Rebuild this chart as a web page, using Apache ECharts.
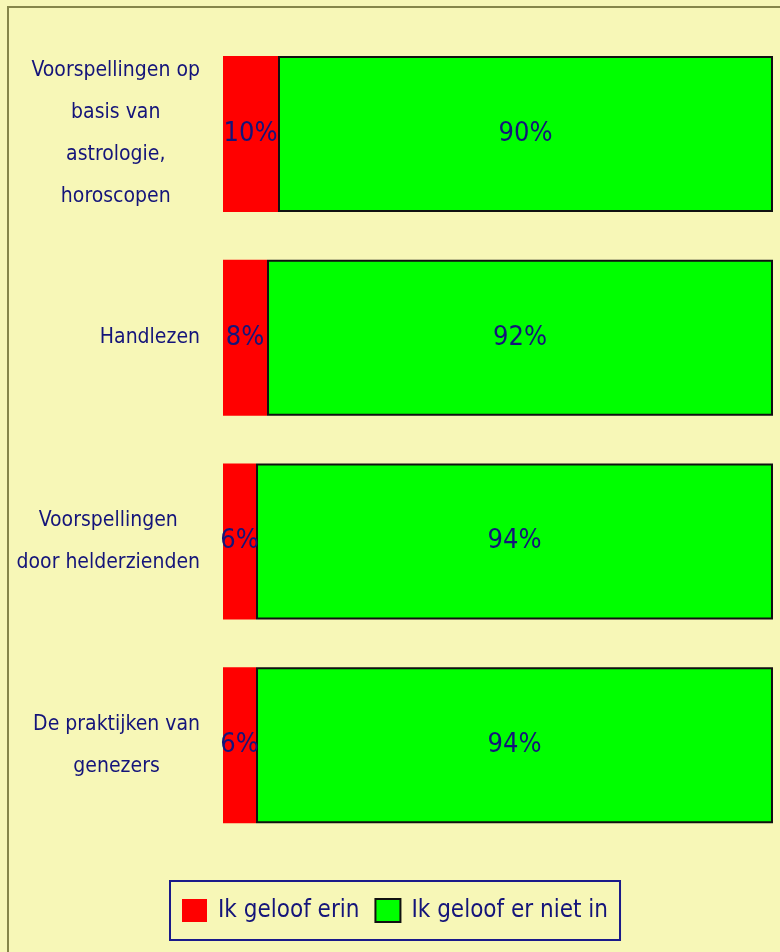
<!DOCTYPE html>
<html>
<head>
<meta charset="utf-8">
<script src="https://cdn.jsdelivr.net/npm/echarts@6/dist/echarts.min.js"></script>
<style>
  html, body { margin: 0; padding: 0; background: #F7F7B7; }
  #chart { width: 780px; height: 952px; }
</style>
</head>
<body>
<div id="chart"></div>
<script>
// categorieen en waarden
var categories = [
  'Voorspellingen op\nbasis van\nastrologie,\nhoroscopen',
  'Handlezen',
  'Voorspellingen\ndoor helderzienden',
  'De praktijken van\ngenezers'
];
var geloofErin = [10, 8, 6, 6];
var geloofNiet = [90, 92, 94, 94];
var seriesNames = ['Ik geloof erin', 'Ik geloof er niet in'];

const NAVY = '#14147A';
const FONT = '"DejaVu Sans Condensed", sans-serif';

var chart = echarts.init(document.getElementById('chart'));

var labelStyle = {
  show: true,
  position: 'inside',
  color: NAVY,
  fontFamily: FONT,
  fontSize: 27,
  formatter: '{c}%'
};

var option = {
  backgroundColor: '#F7F7B7',
  animation: false,
  graphic: [{
    type: 'rect',
    shape: { x: 8, y: 7, width: 800, height: 980 },
    style: { fill: 'none', stroke: '#86864A', lineWidth: 2 },
    silent: true
  }],
  grid: { left: 223, right: 7, top: 32, bottom: 105, outerBoundsMode: 'none', containLabel: false },
  xAxis: {
    type: 'value',
    min: 0,
    max: 100,
    show: false
  },
  yAxis: {
    type: 'category',
    inverse: true,
    data: categories,
    axisLine: { show: false },
    axisTick: { show: false },
    axisLabel: {
      margin: 23,
      align: 'right',
      formatter: function (value) {
        return value.split('\n').map(function (s) { return '{c|' + s + '}'; }).join('\n');
      },
      rich: {
        c: {
          align: 'center',
          color: NAVY,
          fontFamily: FONT,
          fontSize: 21,
          lineHeight: 42
        }
      }
    }
  },
  legend: {
    left: 170,
    top: 881,
    data: seriesNames,
    icon: 'rect',
    itemWidth: 25,
    itemHeight: 23,
    itemGap: 15,
    padding: [17, 12, 17, 12],
    borderColor: '#1A1A8A',
    borderWidth: 2,
    textStyle: { color: NAVY, fontFamily: FONT, fontSize: 24, padding: [0, 0, 0, 6] }
  },
  series: [{
    name: seriesNames[0],
    type: 'bar',
    stack: 'tot',
    barWidth: 156,
    data: geloofErin,
    itemStyle: { color: '#FF0000' },
    label: labelStyle
  }, {
    name: seriesNames[1],
    type: 'bar',
    stack: 'tot',
    barWidth: 156,
    data: geloofNiet,
    itemStyle: { color: '#00FF00', borderColor: '#111111', borderWidth: 2 },
    label: labelStyle
  }]
};

chart.setOption(option);
</script>
</body>
</html>
